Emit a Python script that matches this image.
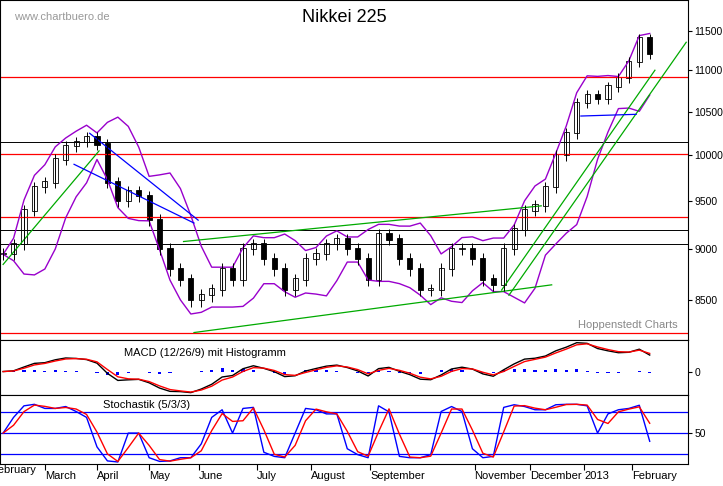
import numpy as np, pandas as pd, seaborn as sns, matplotlib
matplotlib.use("Agg")
import matplotlib.pyplot as plt
plt.rcParams["font.family"] = "Liberation Sans"

# weekly closes, Feb 2012 - Feb 2013
closes = [8950, 9050, 9400, 9650, 9700, 9950, 10100, 10150, 10200, 10120,
          9700, 9500, 9600, 9550, 9300, 9000, 8800, 8700, 8500, 8550,
          8600, 8800, 8700, 9000, 9050, 8900, 8800, 8600, 8700, 8900,
          8950, 9050, 9100, 9000, 8900, 8700, 9150, 9100, 8900, 8800,
          8600, 8600, 8800, 9000, 9000, 8900, 8700, 8650, 9000, 9200,
          9400, 9450, 9650, 10000, 10250, 10600, 10700, 10650, 10800, 10900,
          11100, 11400, 11200]
months = ["March", "April", "May", "June", "July", "August", "September",
          "November", "December", "2013", "February"]
month_week = [4.0, 9.0, 14.0, 18.8, 24.3, 29.5, 35.2, 45.2, 50.5, 55.7, 60.3]
red_levels = [10920, 10020, 9330, 8200]
black_levels = [10150, 9200, 9050]
green_lines = [([0, 9.2], [8850, 10050]), ([17.3, 51.6], [9080, 9450]), ([18.3, 52.6], [8200, 8650]),
               ([47.8, 62.5], [8600, 11000]), ([48.5, 65.5], [8550, 11350])]
blue_lines = [([6.8, 18.3], [9900, 9270]), ([8.3, 18.7], [10250, 9300]), ([55.4, 60.7], [10450, 10470])]
price_ticks = [8500, 9000, 9500, 10000, 10500, 11000, 11500]

c = pd.Series(closes, dtype=float)
n = len(c); x = np.arange(n)
opens = c.shift(1).fillna(c.iloc[0])
ma = c.rolling(5, min_periods=1).mean(); sd = c.rolling(5, min_periods=1).std().fillna(0)
up, lo = ma + 1.6 * sd, ma - 1.6 * sd
macd = c.ewm(span=3).mean() - c.ewm(span=6).mean(); sig = macd.ewm(span=2).mean()
hh = c.rolling(3, min_periods=1).max() + 60; ll = c.rolling(3, min_periods=1).min() - 60
k = 100 * (c - ll) / (hh - ll); d = k.rolling(2, min_periods=1).mean()

W = 0.952
fig = plt.figure(figsize=(7.23, 4.86), dpi=100)
xl = (-0.3, 65.7)
ax = fig.add_axes([0, 0.30, W, 0.70])
ax.set_yscale("log")
for lv in red_levels: ax.axhline(lv, color="red", lw=0.9)
for lv in black_levels: ax.axhline(lv, color="black", lw=0.7)
df = pd.DataFrame({"x": x, "up": up, "lo": lo})
for col in ["up", "lo"]:
    sns.lineplot(data=df, x="x", y=col, ax=ax, color="#9900cc", lw=1)
for xs, ys in green_lines: ax.plot(xs, ys, color="#00aa00", lw=0.9)
for xs, ys in blue_lines: ax.plot(xs, ys, color="blue", lw=0.9)
ax.vlines(x, np.minimum(opens, c) - 60, np.maximum(opens, c) + 60, color="black", lw=0.7)
body_b = np.minimum(opens, c); body_h = np.abs(c - opens) + 15
ax.bar(x, body_h, bottom=body_b, width=0.5, color=["white" if cc >= oo else "black" for cc, oo in zip(c, opens)],
       edgecolor="black", lw=0.6)
ax.set_ylim(8130, 11900); ax.set_xlim(*xl)
ax.yaxis.tick_right(); ax.set_yticks(price_ticks); ax.set_yticklabels([str(t) for t in price_ticks])
ax.yaxis.set_minor_locator(matplotlib.ticker.NullLocator())
ax.set_xlabel(""); ax.set_ylabel("")
ax.tick_params(labelsize=7.5, axis="y", pad=1.5, length=3)
ax.tick_params(axis="x", bottom=False, labelbottom=False)
ax.text(0.5, 0.975, "Nikkei 225", transform=ax.transAxes, ha="center", va="top", fontsize=13)
ax.text(0.02, 0.965, "www.chartbuero.de", transform=ax.transAxes, ha="left", va="top", fontsize=8, color="#999999")
ax.text(0.985, 0.03, "Hoppenstedt Charts", transform=ax.transAxes, ha="right", va="bottom", fontsize=8, color="#888888")

ax2 = fig.add_axes([0, 0.187, W, 0.113], sharex=ax)
ax2.bar(x, macd - sig, width=0.3, color="blue")
dm = pd.DataFrame({"x": x, "m": macd, "s": sig})
sns.lineplot(data=dm, x="x", y="m", ax=ax2, color="black", lw=1)
sns.lineplot(data=dm, x="x", y="s", ax=ax2, color="red", lw=1)
ax2.yaxis.tick_right(); ax2.set_yticks([0]); ax2.tick_params(labelsize=7.5, axis="y", pad=1.5, length=3)
ax2.set_xlabel(""); ax2.set_ylabel(""); ax2.tick_params(axis="x", bottom=False, labelbottom=False)
ax2.text(0.18, 0.72, "MACD (12/26/9) mit Histogramm", transform=ax2.transAxes, fontsize=8)

ax3 = fig.add_axes([0, 0.045, W, 0.142], sharex=ax)
for lv in [20, 50, 80]: ax3.axhline(lv, color="blue", lw=0.9)
ds = pd.DataFrame({"x": x, "k": k, "d": d})
sns.lineplot(data=ds, x="x", y="k", ax=ax3, color="blue", lw=1)
sns.lineplot(data=ds, x="x", y="d", ax=ax3, color="red", lw=1)
ax3.set_ylim(5, 105); ax3.yaxis.tick_right(); ax3.set_yticks([50])
ax3.tick_params(axis="y", labelsize=7.5, pad=1.5, length=3)
ax3.set_xticks(month_week); ax3.set_xticklabels(months, ha="left", fontsize=8)
ax3.tick_params(axis="x", length=4, direction="out", pad=1, labelbottom=True)
ax3.set_xlabel(""); ax3.set_ylabel("")
ax3.text(0.15, 0.82, "Stochastik (5/3/3)", transform=ax3.transAxes, fontsize=8)
ax3.set_xlim(*xl)
fig.text(-0.012, 0.043, "February", ha="left", va="top", fontsize=8)
fig.savefig("out.png", dpi=100)
